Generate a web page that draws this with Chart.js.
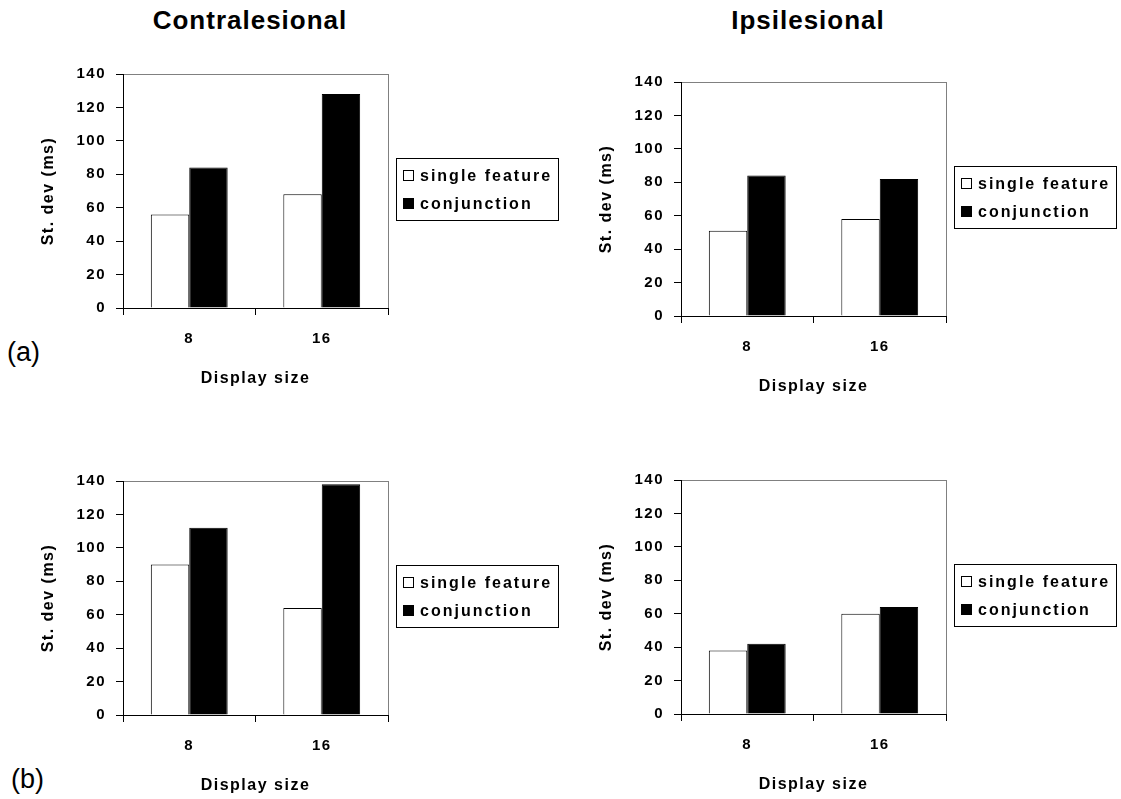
<!DOCTYPE html>
<html>
<head>
<meta charset="utf-8">
<script src="https://cdn.jsdelivr.net/npm/chart.js@4.4.0/dist/chart.umd.min.js"></script>
<style>
  html, body { margin: 0; padding: 0; background: #fff; overflow: hidden; }
  body { width: 1121px; height: 799px; position: relative; font-family: 'Liberation Sans', Arial, sans-serif; }
  canvas { position: absolute; }
  .title { position: absolute; width: 200px; text-align: center; font-weight: bold; font-size: 26px; line-height: 26px; letter-spacing: 1px; }
  .tag { position: absolute; font-size: 27px; line-height: 27px; }
</style>
</head>
<body>
<div class="title" style="left:150px; top:7px;">Contralesional</div>
<div class="title" style="left:708px; top:7px;">Ipsilesional</div>
<div class="tag" style="left:7px; top:339px;">(a)</div>
<div class="tag" style="left:11px; top:766px;">(b)</div>

<canvas id="cA1" width="530" height="338" style="left:30px; top:55px;"></canvas>
<canvas id="cA2" width="530" height="338" style="left:588px; top:63px;"></canvas>
<canvas id="cB1" width="530" height="338" style="left:30px; top:462px;"></canvas>
<canvas id="cB2" width="530" height="338" style="left:588px; top:461px;"></canvas>

<script>
const categories = ['8', '16'];
const seriesNames = ['single feature', 'conjunction'];

// (a) contralesional / ipsilesional
const contraA_single = [56, 68];
const contraA_conj = [84, 128];
const ipsiA_single = [51, 58];
const ipsiA_conj = [84, 82];

// (b)
const contraB_single = [90, 64];
const contraB_conj = [112, 138];
const ipsiB_single = [38, 60];
const ipsiB_conj = [42, 64];

const yMin = 0, yMax = 140, yStep = 20;

Chart.defaults.font.family = "'Liberation Sans', Arial, sans-serif";
Chart.defaults.font.weight = 'bold';
Chart.defaults.color = '#000';

// grey frame around plot, letter spacing like the original
const framePlugin = {
  id: 'frame',
  beforeDraw(chart) {
    const ctx = chart.ctx, a = chart.chartArea;
    ctx.letterSpacing = '1.5px';
    ctx.save();
    ctx.strokeStyle = '#808080';
    ctx.lineWidth = 1;
    ctx.strokeRect(Math.round(a.left) + 0.5, Math.round(a.top) + 0.5, Math.round(a.right - a.left), Math.round(a.bottom - a.top));
    ctx.restore();
  }
};

// boxed legend to the right of the plot
const boxLegend = {
  id: 'boxLegend',
  afterDraw(chart) {
    const ctx = chart.ctx, a = chart.chartArea;
    const x = Math.round(a.right) + 8, y = 103, w = 162, h = 62;
    ctx.save();
    ctx.letterSpacing = '2px';
    ctx.strokeStyle = '#000';
    ctx.lineWidth = 1;
    ctx.strokeRect(x + 0.5, y + 0.5, w, h);
    ctx.font = "bold 16px 'Liberation Sans', Arial, sans-serif";
    ctx.textBaseline = 'middle';
    ctx.textAlign = 'left';
    chart.data.datasets.forEach((ds, i) => {
      const cy = y + 18 + i * 28;
      ctx.fillStyle = ds.backgroundColor;
      ctx.fillRect(x + 7, cy - 6, 11, 11);
      ctx.strokeStyle = '#000';
      ctx.strokeRect(x + 7.5, cy - 5.5, 10, 10);
      ctx.fillStyle = '#000';
      ctx.fillText(ds.label, x + 24, cy + 1);
    });
    ctx.restore();
  }
};

function makeChart(id, single, conj) {
  return new Chart(document.getElementById(id), {
    type: 'bar',
    data: {
      labels: categories,
      datasets: [
        { label: seriesNames[0], data: single, backgroundColor: '#ffffff', borderColor: '#000', borderWidth: 1 },
        { label: seriesNames[1], data: conj, backgroundColor: '#000000', borderColor: '#000', borderWidth: 1 }
      ]
    },
    options: {
      responsive: false,
      animation: false,
      layout: { padding: { left: 0, top: 18, right: 172, bottom: 0 } },
      datasets: { bar: { categoryPercentage: 0.58, barPercentage: 1.0 } },
      plugins: { legend: { display: false }, tooltip: { enabled: false } },
      scales: {
        x: {
          afterFit(s) { s.height = 85; },
          grid: { offset: true, drawOnChartArea: false, drawTicks: true, tickLength: 7, color: '#000' },
          border: { display: true, color: '#000', width: 1 },
          ticks: { padding: 15, font: { size: 15, weight: 'bold' } },
          title: { display: true, text: 'Display size', font: { size: 16, weight: 'bold' }, padding: { top: 0, bottom: 5 } }
        },
        y: {
          min: yMin,
          max: yMax,
          afterFit(s) { s.width = 93; },
          grid: { drawOnChartArea: false, drawTicks: true, tickLength: 7, color: '#000' },
          border: { display: true, color: '#000', width: 1 },
          ticks: { stepSize: yStep, padding: 10, font: { size: 15, weight: 'bold' } },
          title: { display: true, text: 'St. dev (ms)', font: { size: 16, weight: 'bold' }, padding: { top: 9, bottom: 0 } }
        }
      }
    },
    plugins: [framePlugin, boxLegend]
  });
}

makeChart('cA1', contraA_single, contraA_conj);
makeChart('cA2', ipsiA_single, ipsiA_conj);
makeChart('cB1', contraB_single, contraB_conj);
makeChart('cB2', ipsiB_single, ipsiB_conj);
</script>
</body>
</html>
